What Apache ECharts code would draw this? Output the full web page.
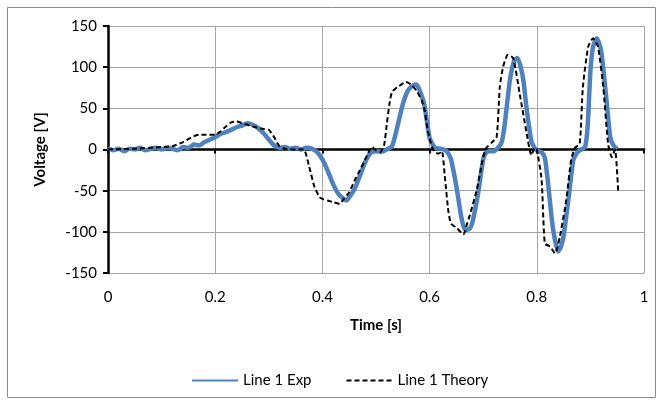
<!DOCTYPE html>
<html>
<head>
<meta charset="utf-8" />
<title>Line 1 voltage</title>
<script src="https://cdn.jsdelivr.net/npm/echarts@6/dist/echarts.min.js"></script>
<style>
  html, body { margin: 0; padding: 0; background: #fff; }
  #main { width: 663px; height: 405px; }
</style>
</head>
<body>
<div id="main"></div>
<script type="text/javascript">
// measured (experiment) trace
var expTime = [0, 0.01, 0.02, 0.03, 0.04, 0.05, 0.06, 0.07, 0.08, 0.09, 0.10, 0.11, 0.12, 0.13, 0.14,
    0.15, 0.16, 0.17, 0.18, 0.19, 0.20, 0.21, 0.22, 0.23, 0.24, 0.25, 0.26, 0.27, 0.28, 0.29,
    0.30, 0.31, 0.32, 0.33, 0.34, 0.35, 0.36, 0.37, 0.38, 0.39, 0.40, 0.41, 0.42, 0.43, 0.44,
    0.445, 0.45, 0.46, 0.47, 0.48, 0.49, 0.50, 0.51, 0.52, 0.53, 0.54, 0.55, 0.56, 0.57, 0.575,
    0.58, 0.59, 0.60, 0.61, 0.62, 0.63, 0.635, 0.64, 0.65, 0.66, 0.667, 0.675, 0.68, 0.69, 0.70,
    0.705, 0.71, 0.72, 0.73, 0.735, 0.74, 0.75, 0.758, 0.764, 0.77, 0.775, 0.78, 0.785, 0.79,
    0.795, 0.80, 0.81, 0.815, 0.82, 0.83, 0.84, 0.845, 0.85, 0.86, 0.868, 0.875, 0.88, 0.89,
    0.895, 0.90, 0.905, 0.912, 0.92, 0.93, 0.937, 0.943, 0.95];
var expVolt = [2, -1, 1, -2, 1, 0, 2, -1, 1, 2, 0, 2, 1, -1, 3,
    2, 6, 5, 9, 12, 15, 19, 21, 24, 27, 29, 32, 30, 26, 20,
    12, 5, 2, 3, 1, 2, 0, 2, 1, -3, -12, -26, -42, -54, -60,
    -62, -58, -48, -32, -15, -4, -2, -3, 0, 4, 28, 55, 72, 78, 79,
    74, 55, 14, 2, 1, -1, -5, -12, -45, -85, -98, -96, -88, -55, -12,
    -4, -2, -2, 4, 10, 30, 85, 108, 111, 100, 84, 55, 30, 10,
    3, -1, -4, -10, -35, -95, -124, -118, -105, -55, -13, -4, -1, 3,
    30, 95, 125, 135, 120, 60, 15, 5, 1];

// theoretical trace
var theoryTime = [0, 0.05, 0.10, 0.12, 0.14, 0.16, 0.17, 0.19, 0.20, 0.21, 0.22, 0.23, 0.24, 0.25,
    0.27, 0.29, 0.30, 0.31, 0.32, 0.33, 0.35, 0.365, 0.375, 0.385, 0.395, 0.40, 0.41, 0.42, 0.432,
    0.44, 0.45, 0.46, 0.47, 0.48, 0.487, 0.492, 0.50, 0.508, 0.515, 0.52, 0.525, 0.53, 0.54, 0.545,
    0.556, 0.565, 0.575, 0.585, 0.59, 0.597, 0.605, 0.612, 0.617, 0.623, 0.628, 0.635, 0.64, 0.65,
    0.663, 0.67, 0.675, 0.688, 0.70, 0.706, 0.715, 0.725, 0.731, 0.737, 0.746, 0.756, 0.768, 0.781,
    0.79, 0.796, 0.80, 0.809, 0.815, 0.825, 0.834, 0.843, 0.855, 0.864, 0.871, 0.88, 0.886, 0.896,
    0.905, 0.914, 0.924, 0.933, 0.94, 0.946, 0.952];
var theoryVolt = [0, 1, 3, 4, 9, 16, 18, 18, 18, 22, 28, 33, 34, 32,
    28, 25, 24, 15, 4, 1, 0, 0, -20, -45, -58, -60, -62, -64, -66,
    -60, -52, -38, -25, -12, -2, 3, -1, -3, 5, 30, 55, 70, 76, 78,
    82, 79, 72, 60, 50, 22, 2, -4, -5, -2, -30, -75, -90, -95,
    -103, -90, -80, -49, -9, 2, 8, 15, 76, 100, 115, 111, 68, 20,
    -7, 2, 0, -37, -114, -118, -126, -106, -61, -13, 2, 7, 76, 125,
    135, 125, 76, 7, -9, 0, -53];

var xTicks = [0, 0.2, 0.4, 0.6, 0.8, 1];
var yTicks = [-150, -100, -50, 0, 50, 100, 150];

function pairs(xs, ys) {
    var out = [];
    for (var i = 0; i < xs.length; i++) out.push([xs[i], ys[i]]);
    return out;
}

var fontName = 'Lato';
var chart = echarts.init(document.getElementById('main'));

var option = {
    animation: false,
    backgroundColor: '#fff',
    textStyle: { fontFamily: fontName },
    graphic: [{
        type: 'rect',
        shape: { x: 7.5, y: 7.5, width: 648, height: 390 },
        style: { fill: 'none', stroke: '#8c8c8c', lineWidth: 1 },
        silent: true
    }],
    grid: { left: 108, right: 19, top: 26, bottom: 132 },
    legend: {
        left: 186,
        top: 368,
        itemWidth: 46,
        itemHeight: 14,
        itemGap: 34,
        itemStyle: { opacity: 0 },
        textStyle: { fontFamily: fontName, fontSize: 15, color: '#000' },
        data: ['Line 1 Exp', 'Line 1 Theory']
    },
    xAxis: [{
        type: 'value',
        min: xTicks[0],
        max: xTicks[xTicks.length - 1],
        interval: 0.2,
        name: 'Time [s]',
        nameLocation: 'middle',
        nameGap: 45,
        nameTextStyle: { fontFamily: fontName, fontSize: 15, fontWeight: 'bold', color: '#000' },
        axisLine: { show: false, onZero: false },
        axisTick: { show: false },
        axisLabel: { margin: 17, fontSize: 15, color: '#000', fontFamily: fontName },
        splitLine: { show: true, lineStyle: { color: '#a6a6a6', width: 1 } }
    }, {
        // zero line with the small tick marks
        type: 'value',
        position: 'bottom',
        min: xTicks[0],
        max: xTicks[xTicks.length - 1],
        interval: 0.2,
        axisLine: { show: true, onZero: true, onZeroAxisIndex: 0, lineStyle: { color: '#000', width: 2.5 } },
        axisTick: { show: true, length: 4, lineStyle: { color: '#000', width: 2 } },
        axisLabel: { show: false },
        splitLine: { show: false }
    }],
    yAxis: {
        type: 'value',
        min: yTicks[0],
        max: yTicks[yTicks.length - 1],
        interval: 50,
        name: 'Voltage [V]',
        nameLocation: 'middle',
        nameGap: 60,
        nameTextStyle: { fontFamily: fontName, fontSize: 15, fontWeight: 'bold', color: '#000' },
        axisLine: { show: true, onZero: false, lineStyle: { color: '#000', width: 2.5 } },
        axisTick: { show: true, length: 5, lineStyle: { color: '#000', width: 2 } },
        axisLabel: { margin: 11, fontSize: 15, color: '#000', fontFamily: fontName },
        splitLine: { show: true, lineStyle: { color: '#a6a6a6', width: 1 } }
    },
    series: [{
        name: 'Line 1 Exp',
        type: 'line',
        xAxisIndex: 0,
        data: pairs(expTime, expVolt),
        showSymbol: false,
        symbol: 'none',
        smooth: 0.2,
        lineStyle: { color: '#4f81bd', width: 4.5 },
        itemStyle: { color: '#4f81bd' },
        z: 3
    }, {
        name: 'Line 1 Theory',
        type: 'line',
        xAxisIndex: 0,
        data: pairs(theoryTime, theoryVolt),
        showSymbol: false,
        symbol: 'none',
        smooth: 0.2,
        lineStyle: { color: '#000', width: 2, type: [5, 3] },
        itemStyle: { color: '#000' },
        z: 4
    }]
};

chart.setOption(option);
</script>
</body>
</html>
